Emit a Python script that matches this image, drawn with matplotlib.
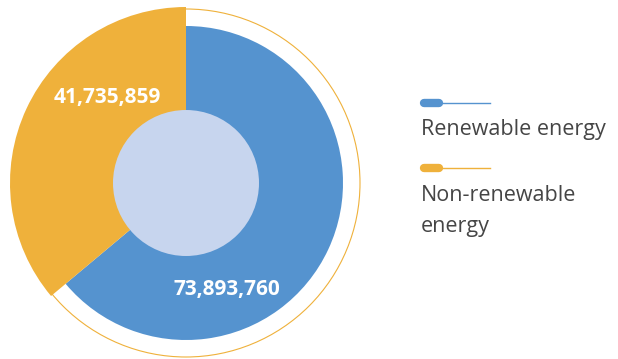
import matplotlib
matplotlib.use("Agg")
import matplotlib.pyplot as plt

categories = ["Renewable energy", "Non-renewable energy"]
legend_labels = ["Renewable energy", "Non-renewable\nenergy"]
values = [73893760, 41735859]
value_labels = ["73,893,760", "41,735,859"]
colors = ["#5593CF", "#EFB13B"]

W, H = 618, 359
fig = plt.figure(figsize=(W / 100, H / 100), dpi=100)
ax = fig.add_axes([0, 0, 1, 1])
ax.set_xlim(0, W)
ax.set_ylim(0, H)
ax.set_aspect("equal")
ax.axis("off")

cx, cy = 186, H - 183
wedges, _ = ax.pie(values, colors=colors, startangle=90, counterclock=False,
                   center=(cx, cy), radius=176,
                   wedgeprops=dict(linewidth=0))
wedges[0].set_radius(157)
ax.set_xlim(0, W)
ax.set_ylim(0, H)

# thin outer ring
ring = plt.Circle((cx, cy), 174, fill=False, edgecolor=colors[1], linewidth=0.8)
ax.add_patch(ring)
# inner disk
ax.add_patch(plt.Circle((cx, cy), 73, color="#C7D5EE", linewidth=0))

label_pos = [(226.5, H - 290), (107, H - 98)]
for (x, y), t in zip(label_pos, value_labels):
    ax.text(x, y, t, color="white", fontsize=15, fontweight="bold",
            family="Open Sans", ha="center", va="center")

# legend
leg_y = [H - 103, H - 168]
text_y = [H - 130, H - 211]
for i in range(2):
    ax.plot([424, 439], [leg_y[i], leg_y[i]], color=colors[i], linewidth=6,
            solid_capstyle="round")
    ax.plot([440, 490], [leg_y[i], leg_y[i]], color=colors[i], linewidth=1)
    ax.text(421, text_y[i], legend_labels[i], color="#454545", fontsize=15.5,
            family="Open Sans", ha="left", va="center", linespacing=1.65)

fig.savefig("out.png", dpi=100)
